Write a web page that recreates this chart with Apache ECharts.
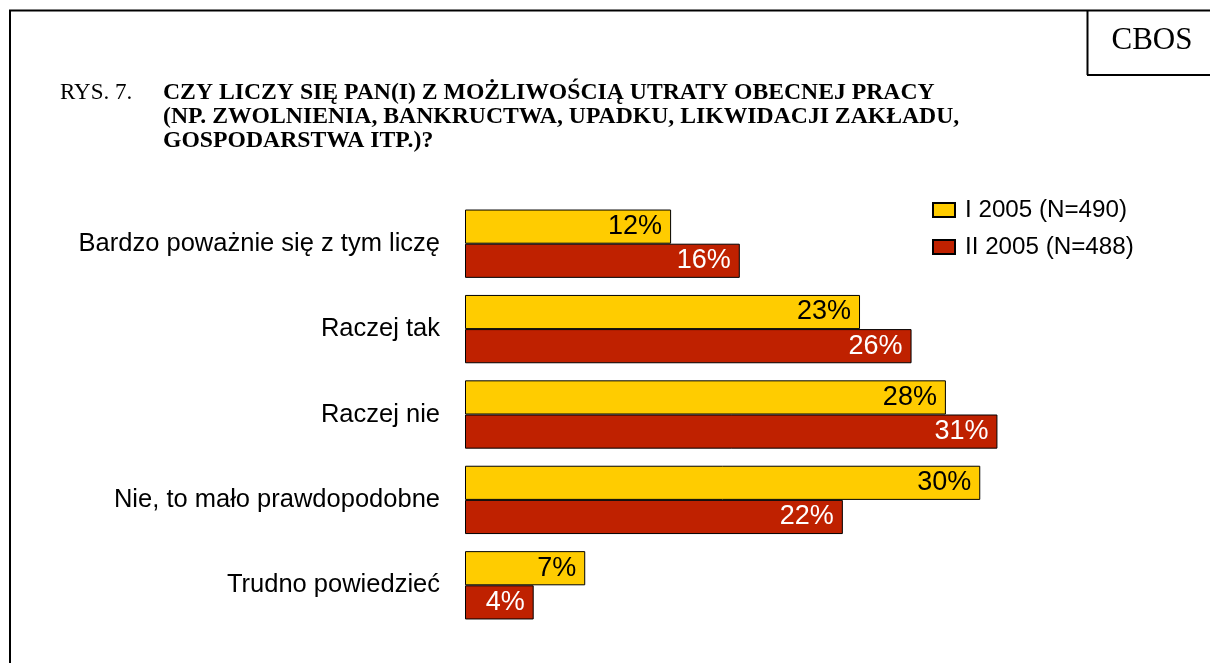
<!DOCTYPE html>
<html>
<head>
<meta charset="utf-8">
<title>RYS. 7.</title>
<script src="https://cdn.jsdelivr.net/npm/echarts@6/dist/echarts.min.js"></script>
<style>
  html, body { margin: 0; padding: 0; background: #fff; }
  #chart { width: 1210px; height: 663px; }
</style>
</head>
<body>
<div id="chart"></div>
<script>
// dane
const categories = [
  'Bardzo poważnie się z tym liczę',
  'Raczej tak',
  'Raczej nie',
  'Nie, to mało prawdopodobne',
  'Trudno powiedzieć'
]
const seriesNames = ['I 2005 (N=490)', 'II 2005 (N=488)']
const valuesJan = [12, 23, 28, 30, 7]
const valuesFeb = [16, 26, 31, 22, 4]

const sans = 'Liberation Sans, Arial, sans-serif'
const serif = 'Liberation Serif, Times New Roman, serif'

const myChart = echarts.init(document.getElementById('chart'), null, { renderer: 'canvas' })

function makeSeries(name, data, color, labelColor) {
  return {
    name: name,
    type: 'bar',
    data: data,
    barGap: 0,
    barCategoryGap: '20%',
    itemStyle: {
      color: color,
      borderColor: '#000',
      borderWidth: 1
    },
    label: {
      show: true,
      position: 'insideRight',
      distance: 9,
      formatter: '{c}%',
      color: labelColor,
      fontFamily: sans,
      fontSize: 27
    }
  }
}

const option = {
  animation: false,
  backgroundColor: '#fff',
  title: [
    {
      text: 'RYS. 7.',
      left: 55,
      top: 76,
      textStyle: { fontFamily: serif, fontWeight: 'normal', fontSize: 23, lineHeight: 24, color: '#000' }
    },
    {
      text: 'CZY LICZY SIĘ PAN(I) Z MOŻLIWOŚCIĄ UTRATY OBECNEJ PRACY\n(NP. ZWOLNIENIA, BANKRUCTWA, UPADKU, LIKWIDACJI ZAKŁADU,\nGOSPODARSTWA ITP.)?',
      left: 158,
      top: 76,
      textStyle: { fontFamily: serif, fontWeight: 'bold', fontSize: 23.7, lineHeight: 24, color: '#000' }
    }
  ],
  legend: {
    orient: 'vertical',
    left: 927,
    top: 193,
    itemWidth: 22,
    itemHeight: 14,
    itemGap: 13,
    icon: 'rect',
    data: seriesNames,
    textStyle: { fontFamily: sans, fontSize: 24.2, lineHeight: 24, color: '#000', padding: [0, 0, 0, 5] }
  },
  grid: {
    left: 465,
    top: 201,
    width: 687,
    height: 427,
    containLabel: false
  },
  xAxis: {
    type: 'value',
    min: 0,
    max: 40,
    show: false
  },
  yAxis: {
    type: 'category',
    inverse: true,
    data: categories,
    axisLine: { show: false },
    axisTick: { show: false },
    splitLine: { show: false },
    axisLabel: {
      margin: 25,
      fontFamily: sans,
      fontSize: 25.5,
      color: '#000'
    }
  },
  series: [
    makeSeries(seriesNames[0], valuesJan, '#FFCC00', '#000'),
    makeSeries(seriesNames[1], valuesFeb, '#BF2100', '#fff')
  ],
  // ramka i znak CBOS
  graphic: [
    { type: 'line', shape: { x1: 9, y1: 10.5, x2: 1210, y2: 10.5 }, style: { stroke: '#000', lineWidth: 2 } },
    { type: 'line', shape: { x1: 10, y1: 10, x2: 10, y2: 663 }, style: { stroke: '#000', lineWidth: 2 } },
    { type: 'line', shape: { x1: 1087.5, y1: 10, x2: 1087.5, y2: 75 }, style: { stroke: '#000', lineWidth: 2 } },
    { type: 'line', shape: { x1: 1087, y1: 75, x2: 1210, y2: 75 }, style: { stroke: '#000', lineWidth: 2 } },
    {
      type: 'text',
      x: 1152,
      y: 41,
      style: {
        text: 'CBOS',
        fontFamily: serif,
        fontSize: 31,
        fill: '#000',
        align: 'center',
        verticalAlign: 'middle'
      }
    }
  ]
}

myChart.setOption(option)
</script>
</body>
</html>
